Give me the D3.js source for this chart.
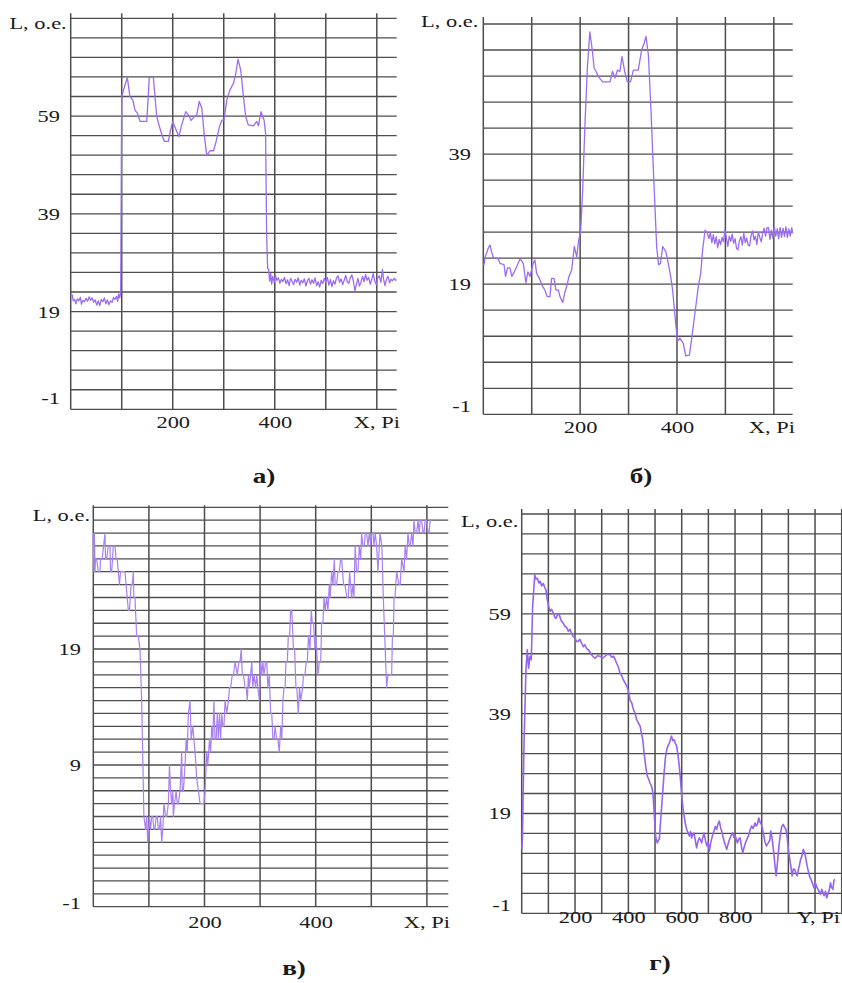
<!DOCTYPE html>
<html>
<head>
<meta charset="utf-8">
<script src="https://cdn.jsdelivr.net/npm/d3@7/dist/d3.min.js"></script>
<style>
  html, body { margin: 0; padding: 0; background: #fff; }
  svg { display: block; }
  svg text { font-family: "Liberation Serif", "Tinos", "Times New Roman", "DejaVu Serif", serif; }
</style>
</head>
<body>
<svg id="chart" width="842" height="983"></svg>
<script>
// ---------------- DATA ----------------
// Panel а) : L vs X, Pi
const aX = [0,3,5,8,10,13,16,19,21,24,27,30,33,36,39,42,45,48,51,54,57,60,63,66,69,72,75,78,81,84,87,90,92,94,96,98,
  100,104.6,111,116,121.6,126,130.7,136,149,151.6,154,162,168.6,174,180,183.7,191.5,196,200,206.5,212,217.6,225.5,231,236,242.5,247,252,257,261.4,266.7,273,280,285,291.5,296,300.6,306,312,319,323,328,333.3,338.6,343,348,358,364.7,368,373,379,382,384,386,
  388,390,392,394,396,399,401,404,407,410,413,416,419,422,425,428,431,434,437,440,443,446,449,452,455,458,461,464,467,470,473,476,479,482,485,488,491,494,497,500,503,506,509,512,515,518,521,524,527,530,533,536,539,542,545,548,551,554,557,560,563,566,569,572,575,578,581,584,587,590,593,596,599,602,605,608,611,613,616,619,622,625,628,631,634,637,639];
const aY = [22.2,22.4,21.2,21.5,20.6,21.6,21.2,21.9,20.5,21.3,21.0,21.7,21.1,22.0,21.3,21.8,20.9,21.4,20.3,21.2,20.2,21.5,21.0,21.8,20.6,21.4,20.4,21.2,20.9,21.9,21.5,22.1,21.1,22.6,21.8,22.9,
  63.0,64.7,66.9,63.0,62.3,60.2,59.6,57.9,57.9,62.3,66.9,66.9,58.9,56.8,54.8,53.8,53.8,56.2,57.9,56.2,54.8,57.2,59.9,59.2,58.1,58.9,59.2,62.0,60.6,55.5,50.9,51.9,51.9,53.8,56.8,58.1,58.2,62.3,64.3,65.7,67.4,70.6,68.4,63.0,58.9,57.2,57.0,57.9,57.0,59.9,58.2,55.5,35.0,27.8,
  27.6,25.2,26.8,24.6,26.2,25.0,26.5,25.4,25.9,24.8,25.6,25.1,26.0,24.7,25.5,24.3,25.8,25.2,24.5,25.6,25.0,25.9,24.4,25.4,24.9,25.7,24.2,25.3,25.8,24.6,25.5,24.8,25.9,24.3,25.1,24.0,25.4,24.7,25.8,25.0,26.0,24.4,25.6,24.1,25.3,24.6,25.9,26.3,25.0,25.7,24.5,25.4,26.4,25.1,24.8,25.9,26.5,25.3,23.2,24.5,25.8,24.2,25.0,26.2,25.1,26.6,25.4,26.0,24.6,25.5,26.8,25.2,24.5,25.9,26.3,25.0,27.6,25.8,24.3,25.6,26.2,24.9,25.6,25.3,25.8,25.4,25.5];

// Panel б) : L vs X, Pi
const bX = [0,1.4,4,10,14,17,20.7,31,34.4,42.7,46,50,55,59,64,69,76,82.6,88,92,96.4,103,106.7,110,115.7,121,127,132,137.7,141,146,150,155,158.4,164,168,172,177,182.5,188,193,197,201,205,210,215,220,225,229,233,237.6,246.6,261.7,267,272,277,282,286.5,292,297.5,304,310,320,327,332,336,341,346,351,358,362,366,370.5,377,382,387,391,396,401,406,413,418,425.6,430,437,444,449,453,458,463,
  466,469,472,475,478,481,484,487,490,493,496,499,502,505,508,511,514,517,520,523,526,529,532,535,538,541,544,547,550,553,556,559,562,565,568,571,574,577,580,583,586,589,592,595,598,601,604,607,610,613,616,619,622,625,628,631,634,637,639];
const bY = [22.0,22.0,23.2,24.5,25.0,24.0,23.1,22.9,22.2,22.0,20.2,21.5,21.5,20.2,20.9,21.7,22.9,22.2,19.2,20.9,20.2,22.2,22.7,20.7,19.9,18.9,18.1,17.1,17.1,19.9,19.9,18.1,18.1,17.1,16.2,17.6,18.6,20.2,21.2,24.8,23.2,25.8,27.1,33.0,43.7,52.4,57.8,55.0,52.2,51.7,50.9,50.1,50.1,51.7,50.7,51.9,51.7,54.0,51.7,50.1,50.1,51.9,51.9,55.0,56.0,57.1,54.2,46.3,37.1,24.8,22.0,22.2,24.8,24.0,22.2,20.2,18.1,14.0,10.2,10.7,9.9,8.0,8.1,10.4,14.5,18.6,20.7,24.3,27.3,26.8,
  26.0,26.9,25.4,26.6,25.2,26.3,24.6,25.9,25.1,26.2,25.5,27.4,26.1,24.8,26.4,25.6,26.7,25.3,26.0,24.5,24.3,25.7,26.3,25.0,26.8,25.4,26.1,25.0,24.9,26.5,27.2,25.8,26.4,25.1,27.0,26.2,25.5,26.9,27.6,26.4,27.7,27.7,25.9,27.3,26.1,27.8,26.4,27.5,26.0,27.7,26.2,27.6,26.3,27.8,26.2,27.5,26.4,27.7,26.8];

// Panel в) : L vs X, Pi
const cX = [0,1,2,3,4,6,9,12,13,16,21,22,24,27,30,31,33,36,39,41,43,45,47,49,51,57,63,65,68,70,72,73,75,78,81,84,87,91,94,96,98,
  100.7,103,105,107,109,111,113,115,117,119,121,123,125,127,130,132,135,137,139,141,143,144,146,149,151,153,156,159,160,162,165,167,169,171,174,176,179,183,186,189,192,197,199,201,204,206,209,211,213,215,217,219,221,223,225,227,229,231,233,235,237,240,243,245,247,250,252,255,259,262,264,266,268,270,273,275,277,279,280.6,283,285,287,289,292,294,296,298.6,301,303,305,307,310,312,314,316.5,319,321,323,325,327,329.7,332,334.5,337,339,341,343,345,346.5,349,350.7,353,355,357,360,362,364.5,366,368.7,371,373,376.5,378,380.7,383,385,387,389.7,392,394,396,398.7,400,401.7,404,406.5,409,410.7,413,414.9,417,419.7,422,424.5,426,428.7,431,433.5,435,437.6,440,442.4,445,446.6,450,452.6,456,458.6,461,464.6,467,468.8,471,473.6,476,478.4,481,482.6,485,487.4,489,491.6,494,496.4,499,500.6,503,504.8,507,509.6,512,515.6,519,521.6,525,527.6,530,532.4,535,536.6,538,539.6,541,542.6,545.6,549.8,552,554.6,558.8,561,563.5,566,568.3,570,572.5,575,576.7,579,581.5,584,586.3,588,590.5,593,594.7,597,599.5,602,603.7,606,608.5,611,612.7,615,617.5,620,622.3,624,626.5,629,631.3,633,635.5,637,638.5];
const cY = [28,25,28,25,26,26,25,25,26,26,28,26,26,27,27,25,25,27,27,26,26,25,24,25,25,25,22,22,24,24,25,23,23,20,20,19,15,6,5,6,4,
  6,5,6,6,5,5,6,6,5,5,6,4,5,7,6,6,7,10,8,7,8,6,7,8,7,7,8,11,8,8,10,12,11,14,15,12,13,11,9,8,7,7,7,8,11,10,12,11,13,12,15,12,12,14,12,14,12,14,13,13,15,14,15,16,16,17,17,18,17,18,18,19,17,17,16,16,15,17,16,17,18,16,17,16,17,16,15,18,17,18,17,18,18,16,17,14,14,12,12,13,12,12,11,13,12,15,16,16,18,18,20,20,22,22,19,19,16,16,14,16,15,16,17,17,18,18,20,19,22,21,21,19,20,19,17,18,18,21,21,23,22,23,22,24,23,25,24,26,24,24,25,25,26,26,24,24,23,23,25,23,24,23,27,25,25,27,26,28,27,27,28,28,27,28,27,28,28,27,28,27,25,28,27,23,19,16,17,17,17,17,20,20,23,23,25,24,24,26,25,27,26,28,27,27,28,27,29,28,28,29,28,29,29,28,28,29,29,28,28,29,29];

// Panel г) : L vs Y, Pi
const dX = [0,2.5,9,16,21,26,31,36,41,49,54,59,64,69,75,81,86,91,96,100,106,112,119,124,129,135,141,146,150,156,162,168,175,181,187,194,200,206,212,218,225,231,237,243,250,256,262,268,275,284,294,303,312,321,331,338,344,350,356,362,369,375,381,388,394,400,406,413,419,425,431,437,444,449,454,458,462,466,471,476,481,486,490,493,496,499,502,505,509,512,516,520,525,530,534,539,544,549,554,558,562,566,571,576,581,586,591,596,600,605,609,614,619,624,629,633,637,641,646,651,656,661,666,670,675,680,684,689,694,699,704,708,712,717,721,726,731,736,741,746,750,755,759,764,769,774,779,785,791,796,801,805,809,814,819,824,829,834,839,845,850,856,862,868,875,879,884,889,894,899,904,908,912,918,925,930,934,939,944,949,954,958,962,966,971,976,981,986,991,996,1000,1005,1009,1014,1019,1024,1029,1033,1037,1041,1046,1051,1056,1061,1066,1072,1079,1083,1087,1092,1096,1101,1106,1111,1116,1120,1125,1130,1134,1139,1144,1149,1154,1158,1162,1167,1171,1175,1179,1183,1187,1192,1196,1200,1203];
const dY = [11.8,13.8,33.8,47.8,51.8,48.1,50.5,49.8,60.5,66.8,66.0,66.1,65.2,65.5,64.6,65.1,64.3,63.8,61.8,60.8,59.5,59.9,59.1,58.3,58.1,58.9,58.8,57.9,57.5,57.1,56.5,56.3,55.5,55.9,55.1,54.4,54.1,53.4,53.5,53.9,53.1,52.4,52.8,52.1,51.8,51.3,50.8,50.4,50.1,50.6,50.5,50.1,50.5,50.9,50.8,50.3,50.5,49.9,49.1,48.4,47.1,46.6,45.8,45.1,44.5,43.6,41.8,41.1,39.8,39.1,37.8,37.2,36.5,35.1,33.8,31.6,29.8,28.1,26.5,25.9,25.1,24.6,23.8,22.4,19.8,17.1,14.5,13.6,13.1,13.6,13.8,16.8,20.5,24.1,27.1,30.2,31.8,32.6,33.1,33.9,34.5,33.6,33.8,33.1,32.5,30.8,28.5,25.4,22.5,20.1,18.5,16.9,15.8,15.1,14.5,15.4,14.1,14.7,15.1,13.6,12.1,13.4,14.1,13.8,13.1,14.4,15.1,13.6,12.5,13.2,11.5,12.9,13.8,14.9,15.5,16.4,15.8,16.9,17.5,16.1,15.5,14.3,13.5,12.6,11.8,12.9,13.8,14.6,15.1,14.2,14.5,13.8,13.1,13.9,14.1,12.4,11.1,12.2,13.1,13.9,14.5,15.6,16.5,16.0,17.1,16.5,16.9,18.1,17.2,16.8,15.6,14.5,13.4,12.5,13.1,13.6,15.5,14.0,11.8,9.0,6.5,8.5,10.9,13.1,15.2,16.5,16.8,16.2,15.8,14.0,11.8,9.9,8.5,6.5,7.9,7.8,6.9,6.5,7.6,8.5,9.8,10.5,11.8,11.2,9.8,8.1,6.5,6.0,5.5,4.8,4.1,5.1,4.4,3.8,3.3,2.8,3.8,3.1,2.5,3.4,2.1,3.0,3.8,5.1,4.2,3.8,5.6,5.8];

// Tick labels
const aYTicks = [-1, 19, 39, 59];
const bYTicks = [-1, 19, 39];
const cYTickPos = [-1, 10, 19];
const cYTickLabels = ["-1", "9", "19"];
const dYTicks = [-1, 19, 39, 59];
const abcXTicks = [200, 400];
const dXTicks = [200, 400, 600, 800];
const abcXGrid = [100, 200, 300, 400, 500, 600];
const dXGrid = [100, 200, 300, 400, 500, 600, 700, 800, 900, 1000, 1100, 1200];
const yAxisTitle = "L, o.e.";
const captions = ["а)", "б)", "в)", "г)"];
const xTitles = ["X, Pi", "X, Pi", "X, Pi", "Y, Pi"];

// ---------------- DRAWING ----------------
const SERIF = '"Liberation Serif", "Tinos", "Times New Roman", "DejaVu Serif", serif';
const GRID = "#4d4d4d";
const SX = 1.36; // horizontal stretch of the original lettering
const svg = d3.select("#chart");

const panels = [
  { xs: aX, ys: aY, xMax: 639, yDom: [-1, 79], yStep: 4,
    left: 70.7, right: 396.7, top: 18.3, bottom: 409.3, ext: 5,
    yTicks: aYTicks, yLabels: aYTicks.map(String), yLabelX: 60, bottomNudge: 11,
    xTicks: abcXTicks, xGrid: abcXGrid, xLabelY: 428.3, xTitleRight: 400,
    titleRight: 66.7, titleBase: 29.3, cap: captions[0], capX: 264, capY: 483, xTitle: xTitles[0], lw: 1.3, col: "#9b6cf0" },
  { xs: bX, ys: bY, xMax: 639, yDom: [-1, 59], yStep: 4,
    left: 483.3, right: 792.7, top: 24, bottom: 414.3, ext: 7,
    yTicks: bYTicks, yLabels: bYTicks.map(String), yLabelX: 471, bottomNudge: 8,
    xTicks: abcXTicks, xGrid: abcXGrid, xLabelY: 433.3, xTitleRight: 795,
    titleRight: 478.3, titleBase: 26.7, cap: captions[1], capX: 641, capY: 483, xTitle: xTitles[1], lw: 1.3, col: "#9b6cf0" },
  { xs: cX, ys: cY, xMax: 638.5, yDom: [-1, 30], yStep: 1,
    left: 93.3, right: 448.3, top: 507.3, bottom: 906.7, ext: 2,
    yTicks: cYTickPos, yLabels: cYTickLabels, yLabelX: 81, bottomNudge: 4,
    xTicks: abcXTicks, xGrid: abcXGrid, xLabelY: 928.3, xTitleRight: 450,
    titleRight: 90, titleBase: 520.7, cap: captions[2], capX: 294, capY: 975, xTitle: xTitles[2], lw: 1.2, col: "#a880f2" },
  { xs: dX, ys: dY, xMax: 1206, yDom: [-1, 79], yStep: 4,
    left: 521.7, right: 843.3, top: 514, bottom: 913.3, ext: 5,
    yTicks: dYTicks, yLabels: dYTicks.map(String), yLabelX: 511, bottomNudge: 8,
    xTicks: dXTicks, xGrid: dXGrid, xLabelY: 923.3, xTitleRight: 840,
    titleRight: 518.3, titleBase: 526.7, cap: captions[3], capX: 660, capY: 970, xTitle: xTitles[3], lw: 1.6, col: "#9563ee" }
];

function styleText(sel, size) {
  sel.style("font-family", SERIF).style("font-size", size + "px").attr("fill", "#1a1a1a");
}
// place a stretched text whose anchor point is (px, py)
function putText(g, px, py, txt, size, anchor, bold) {
  const t = g.append("text")
    .attr("transform", `translate(${px},${py}) scale(${SX},1)`)
    .attr("text-anchor", anchor).text(txt).call(styleText, size);
  if (bold) t.style("font-weight", "bold");
  return t;
}

panels.forEach(p => {
  const g = svg.append("g");
  const x = d3.scaleLinear().domain([0, p.xMax]).range([p.left, p.right]);
  const y = d3.scaleLinear().domain(p.yDom).range([p.bottom, p.top]);

  // horizontal grid lines
  const hVals = d3.range(p.yDom[0], p.yDom[1] + p.yStep / 2, p.yStep);
  g.selectAll("line.h").data(hVals).join("line")
    .attr("x1", p.left).attr("x2", Math.min(p.right, 842))
    .attr("y1", d => y(d)).attr("y2", d => y(d))
    .attr("stroke", GRID).attr("stroke-width", 1.3);

  // vertical grid lines (including left axis at 0)
  const vVals = [0].concat(p.xGrid).filter(v => x(v) <= 842);
  g.selectAll("line.v").data(vVals).join("line")
    .attr("x1", d => x(d)).attr("x2", d => x(d))
    .attr("y1", p.top - p.ext).attr("y2", p.bottom)
    .attr("stroke", GRID).attr("stroke-width", 1.5);

  // data line
  const pts = p.xs.map((v, i) => [v, p.ys[i]]);
  g.append("path").datum(pts)
    .attr("fill", "none").attr("stroke", p.col).attr("stroke-width", p.lw)
    .attr("stroke-linejoin", "round")
    .attr("d", d3.line().x(d => x(d[0])).y(d => y(d[1])));

  // y tick labels via axis
  const yAxis = d3.axisLeft(y).tickValues(p.yTicks)
    .tickFormat((d, i) => p.yLabels[i]).tickSize(0).tickPadding(0);
  const ya = g.append("g").attr("transform", `translate(${p.yLabelX},0)`).call(yAxis);
  ya.attr("font-family", null).attr("font-size", null);
  ya.select(".domain").remove();
  ya.selectAll("text")
    .attr("x", 0).attr("dy", null)
    .attr("transform", (d, i) => `translate(0,${(i === 0 ? -p.bottomNudge : 0) + 5.5}) scale(${SX},1)`)
    .call(styleText, 16.5);

  // x tick labels via axis
  const xAxis = d3.axisBottom(x).tickValues(p.xTicks).tickSize(0).tickPadding(0);
  const xa = g.append("g").attr("transform", `translate(0,${p.xLabelY})`).call(xAxis);
  xa.attr("font-family", null).attr("font-size", null);
  xa.select(".domain").remove();
  xa.selectAll("text").attr("dy", null).attr("y", 0)
    .attr("transform", `scale(${SX},1)`).call(styleText, 16.5);

  // axis titles
  putText(g, p.xTitleRight, p.xLabelY, p.xTitle, 16.5, "end", false);
  putText(g, p.titleRight, p.titleBase, yAxisTitle, 16.5, "end", false);

  // caption
  putText(g, p.capX, p.capY, p.cap, 20, "middle", true);
});
</script>
</body>
</html>
